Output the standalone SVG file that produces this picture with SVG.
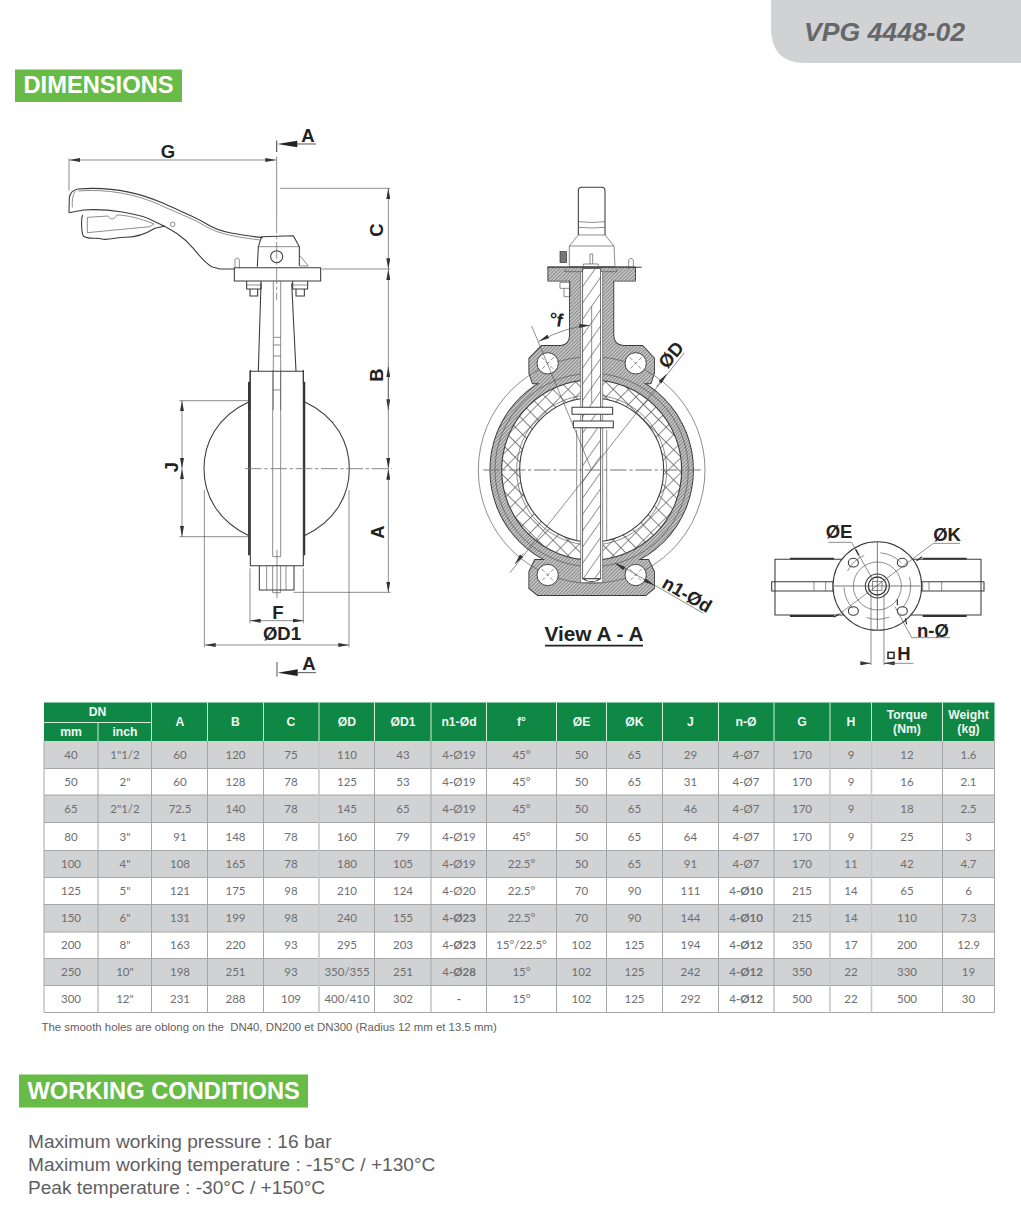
<svg xmlns="http://www.w3.org/2000/svg" width="1021" height="1216" viewBox="0 0 1021 1216">
<style>
.l{fill:none;stroke:#3a3a3a;stroke-width:3.2;stroke-linejoin:round}
.w{fill:#fff;stroke:#3a3a3a;stroke-width:3.2;stroke-linejoin:round}
.t{fill:none;stroke:#555;stroke-width:2}
.k{fill:none;stroke:#333;stroke-width:5.5}
.c{fill:none;stroke:#777;stroke-width:3.5;stroke-dasharray:50 8 10 8}
.d{fill:none;stroke:#555;stroke-width:2;marker-start:url(#a);marker-end:url(#a)}
.e{fill:none;stroke:#555;stroke-width:2;marker-end:url(#a)}
.dl{font:bold 18.5px "Liberation Sans",Arial,sans-serif;fill:#222;text-anchor:middle}
.cell{font:11.5px Lato,"Liberation Sans",sans-serif;fill:#6d6e71;text-anchor:middle}
.cell .b{font-weight:700}
.head{font:bold 12.2px "Liberation Sans",Arial,sans-serif;fill:#f2f8f4;text-anchor:middle}
.title{font:bold 23.7px "Liberation Sans",Arial,sans-serif;fill:#fff}
.cond{font:19.1px "Liberation Sans",Arial,sans-serif;fill:#5f6062}
.grid{stroke:#a6a6a6;stroke-width:1;fill:none}
.grid2{stroke:#c8c8c8;stroke-width:1.6;fill:none}
.hg{stroke:#d5ecdc;stroke-width:1;fill:none}
.hb{fill:url(#hb)}
</style>
<defs>
<marker id="a" viewBox="0 0 32 12" markerUnits="userSpaceOnUse" markerWidth="32" markerHeight="12" refX="32" refY="6" orient="auto-start-reverse"><path d="M0 0L32 6L0 12Z" fill="#333"/></marker>
<pattern id="hb" patternUnits="userSpaceOnUse" width="7.5" height="7.5" patternTransform="rotate(45)"><rect width="7.5" height="7.5" fill="#c9c9c9"/><rect width="3" height="7.5" fill="#858585"/></pattern>
<pattern id="hs" patternUnits="userSpaceOnUse" width="28" height="28" patternTransform="rotate(35)"><rect width="28" height="28" fill="#fff"/><rect width="2" height="28" fill="#666"/></pattern>
<pattern id="hx" patternUnits="userSpaceOnUse" width="32" height="32" patternTransform="rotate(45)"><rect width="32" height="32" fill="#fff"/><path d="M0 0H32M0 0V32" stroke="#555" stroke-width="4" fill="none"/></pattern>
</defs>
<rect width="1021" height="1216" fill="#fff"/>

<g id="doc-tab">
<path d="M771 0H1021V63H805Q771 63 771 28Z" fill="#d1d2d4"/>
<text x="804" y="40.5" style="font:italic bold 26.6px 'Liberation Sans',Arial,sans-serif" fill="#66676a">VPG 4448-02</text>
</g>
<g id="dimensions-title">
<rect x="15" y="69.5" width="167" height="32.5" fill="#67bb46"/>
<text x="23.5" y="93" class="title">DIMENSIONS</text>
</g>

<g id="side-view-top" transform="translate(40 120) scale(.33333)">
<path class="l" d="M87 278L88 232Q92 210 115 207C200 200 290 215 370 250C430 278 470 292 500 312C540 338 600 345 668 353"/>
<path class="t" d="M108 212C98 222 96 240 97 262M115 213C200 206 290 222 365 257C425 285 465 298 495 318C540 345 600 352 660 360"/>
<path class="l" d="M87 278L130 270C200 265 300 280 345 305C400 330 430 350 460 385C480 410 500 432 515 440L540 447H585"/>
<path class="l" d="M128 285C122 300 125 340 130 348C145 360 170 350 190 358C215 360 235 350 260 352C290 352 320 340 345 325L375 318"/>
<path class="t" d="M142 292V338L330 320L342 312C300 295 260 285 230 285C225 300 210 300 205 288Z"/>
<circle class="t" cx="398" cy="313" r="7"/>
<path class="l" d="M652 440L655 380L665 350L760 347L778 380L778 438"/>
<path class="t" d="M655 380H778M778 405L805 438H780"/>
<circle class="l" cx="710" cy="410" r="18"/>
<path class="t" d="M585 445V418Q592 410 598 418V445"/>
<rect class="l" x="583" y="443" width="259" height="40"/>
<path class="l" d="M620 483V507H663V483M630 507V528H653V507M758 483V507H803V483M768 507V528H793V507"/>
<path class="t" d="M620 495H663M758 495H803"/>
<path class="l" d="M663 490L655 752M755 490L768 752M630 790V754H790V790"/>
<path class="t" d="M700 483V870M722 483V870M700 652H722M700 675H722M700 708H722"/>
<path class="k" d="M628 785V870M792 785V870"/>
<path class="t" d="M87 115V212M710 62V96M710 110V290M720 205H1050M845 447H1050"/>
<path class="c" style="stroke-width:2.4" d="M710 290V540"/>
<path class="d" d="M708 120H88"/>
<path class="t" style="stroke-width:3" d="M772 72H828M710 62V96"/>
<path d="M712 72L772 62V82Z" fill="#222"/>
<path class="d" d="M1045 447V205"/>
<path class="d" d="M1045 448V870"/>
</g>

<g id="side-view-bottom" transform="translate(150 370) scale(.33333)">
<path class="l" d="M301 0V587H460V0"/>
<path class="k" d="M297 36V556M463 36V556"/>
<path class="t" d="M368 0V560H392V0M368 60H392"/>
<path class="l" d="M297 95C200 140 162 220 162 296C162 372 200 452 297 497M463 95C560 140 598 220 598 296C598 372 560 452 463 497"/>
<path class="l" d="M328 587V660H432V587"/>
<path class="t" d="M350 587V660M408 587V660M368 587V668H392V587M381 540V685"/>
<path class="t" d="M88 92H297M88 500H297M300 595V760M460 595V760M163 360V832M597 360V832"/>
<path class="c" style="stroke-width:2.6" d="M285 296H725"/>
<path class="t" d="M430 667H722"/>
<path class="d" d="M96 296V92"/>
<path class="d" d="M96 296V500"/>
<path class="d" d="M300 752H460"/>
<path class="d" d="M165 825H597"/>
<path class="d" d="M715 296V-10"/>
<path class="d" d="M715 297V667"/>
<path class="t" style="stroke-width:3" d="M381 876V920M443 908H498"/>
<path d="M383 908L443 898V918Z" fill="#222"/>
</g>

<g id="section-view" transform="translate(470 170) scale(.33333)">
<path class="l hb" style="stroke-width:5.5" d="M235 292H495V332H430V495Q430 525 460 528H518L552 565V610L542 640H188L178 610V565L215 528H272Q300 525 300 495V332H235Z"/>
<path class="l hb" style="stroke-width:5.5" d="M178 1205L195 1170H535L552 1205V1255L527 1275H203L178 1255Z"/>
<circle class="l hb" style="stroke-width:5.5" cx="365" cy="900" r="304"/>
<path class="hb" d="M235 292H495V332H430V495Q430 525 460 528H518L552 565V610L542 640H188L178 610V565L215 528H272Q300 525 300 495V332H235Z"/>
<path class="hb" d="M178 1205L195 1170H535L552 1205V1255L527 1275H203L178 1255Z"/>
<circle class="hb" cx="365" cy="900" r="304"/>
<circle class="t" cx="365" cy="900" r="340"/>
<circle class="t" cx="365" cy="900" r="290"/>
<circle class="l" style="fill:url(#hx)" cx="365" cy="900" r="270"/>
<circle class="w" cx="365" cy="900" r="216"/>
<circle class="t" cx="365" cy="900" r="225"/>
<g fill="#fff" stroke="#444" stroke-width="3">
<circle cx="233" cy="580" r="32"/><circle cx="497" cy="580" r="32"/><circle cx="233" cy="1215" r="32"/><circle cx="497" cy="1215" r="32"/>
</g>
<path class="t" stroke-dasharray="12 6" d="M215 562L251 598M251 562L215 598M479 562L515 598M515 562L479 598M215 1197L251 1233M251 1197L215 1233M479 1197L515 1233M515 1197L479 1233"/>
<path class="t" d="M320 780V1110M335 780V1110M395 780V1110M410 780V1110"/>
<path class="t" d="M298 228L325 195H405L432 228L435 290H298ZM298 228H432"/>
<path class="l" d="M325 195V62Q325 52 335 52H395Q405 52 405 62V195"/>
<path class="t" d="M325 155Q365 160 405 155M325 172Q365 176 405 172"/>
<rect x="270" y="245" width="20" height="33" fill="#777" stroke="#333" stroke-width="2"/>
<path class="t" d="M476 296V270Q483 260 490 270V296M360 282V252H368V282M340 290V282H385V290"/>
<path class="l" d="M232 292H515"/>
<path class="t" d="M285 298V305H440V298"/>
<path class="t" d="M270 337H300V355H270ZM282 355V380H300V355"/>
<rect x="332" y="306" width="66" height="932" fill="#fff"/>
<rect x="338" y="296" width="54" height="930" fill="url(#hs)" stroke="#444" stroke-width="2.4"/>
<path class="t" d="M332 306V1238H398V306"/>
<path class="t" d="M365 410V700"/>
<rect class="w" x="306" y="712" width="122" height="21"/>
<rect class="w" x="310" y="753" width="120" height="20"/>
<path class="w" d="M338 1226Q365 1245 392 1226Z"/>
<path class="c" d="M40 900H692"/>
<path class="t" d="M365 900L185 468"/>
<path class="d" d="M207 514Q290 470 360 466"/>
<path class="t" d="M643 548L120 1208"/>
<path class="e" d="M560 650L590 612"/>
<path class="e" d="M160 1150L135 1182"/>
<path class="t" d="M440 1180L700 1330"/>
<path class="e" d="M470 1200L435 1180"/>
<path class="e" d="M520 1228L553 1246"/>
</g>

<g id="top-view" transform="translate(760 510) scale(.33333)">
<rect class="l" x="45" y="148" width="618" height="167"/>
<path class="k" d="M90 146H222M488 146H620M90 318H222M488 318H620"/>
<rect class="l" x="35" y="215" width="637" height="28"/>
<path class="t" d="M162 215V243M197 215V243M218 215V243M488 215V243M507 215V243M545 215V243"/>
<circle class="w" cx="352" cy="228" r="133"/>
<circle class="t" cx="352" cy="228" r="100" stroke-dasharray="70 50"/>
<circle class="t" cx="352" cy="228" r="72"/>
<circle class="l" cx="352" cy="228" r="36"/>
<circle class="k" cx="352" cy="228" r="27" style="stroke-width:4"/>
<rect class="t" x="338" y="214" width="28" height="28"/>
<path class="t" style="stroke-width:2.4" d="M352 95V360M220 228H488"/>
<g class="l"><ellipse cx="280" cy="158" rx="15" ry="13"/><ellipse cx="427" cy="158" rx="15" ry="13"/><ellipse cx="280" cy="303" rx="15" ry="13"/><ellipse cx="427" cy="303" rx="15" ry="13"/></g>
<path class="t" d="M205 97H275L340 212"/>
<path class="k" style="stroke-width:4" d="M287 118L297 136"/>
<path class="t" d="M600 100H520L230 318"/>
<path class="k" style="stroke-width:4" d="M470 152L486 140M222 322L236 312"/>
<path class="t" d="M570 383H455L405 290"/>
<path class="k" style="stroke-width:3.5" d="M412 268V286M436 325L440 343"/>
<path class="t" d="M333 245V465M372 245V465"/>
<path class="e" d="M305 460H333"/>
<path class="e" d="M405 460H372"/>
<path class="t" d="M372 460H460"/>
<rect x="384" y="427" width="18" height="18" fill="none" stroke="#222" stroke-width="4.5"/>
</g>

<g id="drawing-labels">
<text class="dl" x="168" y="158">G</text>
<text class="dl" x="308" y="142">A</text>
<text class="dl" transform="translate(383 230) rotate(-90)">C</text>
<text class="dl" transform="translate(383 375) rotate(-90)">B</text>
<text class="dl" transform="translate(178 467) rotate(-90)">J</text>
<text class="dl" transform="translate(384 532) rotate(-90)">A</text>
<text class="dl" x="278" y="619">F</text>
<text class="dl" x="282" y="640">ØD1</text>
<text class="dl" x="309" y="670">A</text>
<text class="dl" transform="translate(555 326) rotate(10)">°f</text>
<text class="dl" transform="translate(676 359) rotate(-50)">ØD</text>
<text class="dl" transform="translate(684 600) rotate(30)">n1-Ød</text>
<text x="594" y="641" style="font:bold 20.8px 'Liberation Sans',Arial,sans-serif" fill="#222" text-anchor="middle">View A - A</text>
<path d="M545 645.7H643" stroke="#222" stroke-width="1.8"/>
<text class="dl" x="839" y="538">ØE</text>
<text class="dl" x="947" y="541">ØK</text>
<text class="dl" x="933" y="637">n-Ø</text>
<text class="dl" x="904" y="660">H</text>
</g>

<g id="table">
<rect x="44" y="702.5" width="950.5" height="38.5" fill="#0f8745"/>
<g fill="#d1d2d4">
<rect x="44" y="741" width="950.5" height="27.5"/><rect x="44" y="795" width="950.5" height="27.5"/><rect x="44" y="850.5" width="950.5" height="27"/><rect x="44" y="904.5" width="950.5" height="27.5"/><rect x="44" y="958.5" width="950.5" height="27"/>
</g>
<path class="hg" d="M44 722.5H151.5M98 722.5V741M151.5 702.5V741M207.5 702.5V741M263.5 702.5V741M319 702.5V741M374.5 702.5V741M431 702.5V741M486.5 702.5V741M556.5 702.5V741M606.5 702.5V741M662.5 702.5V741M718.5 702.5V741M774 702.5V741M830 702.5V741M871.5 702.5V741M942.5 702.5V741"/>
<path class="grid" d="M44 741V1012.5M98 741V1012.5M151.5 741V1012.5M207.5 741V1012.5M263.5 741V1012.5M374.5 741V1012.5M431 741V1012.5M486.5 741V1012.5M556.5 741V1012.5M606.5 741V1012.5M662.5 741V1012.5M718.5 741V1012.5M774 741V1012.5M942.5 741V1012.5M994.5 741V1012.5M44 768.5H994.5M44 795H994.5M44 822.5H994.5M44 850.5H994.5M44 877.5H994.5M44 904.5H994.5M44 932H994.5M44 958.5H994.5M44 985.5H994.5M44 1012.5H994.5"/>
<path class="grid2" d="M319 741V1012.5M830 741V1012.5M871.5 741V1012.5"/>
<g class="head">
<text x="97.5" y="716">DN</text><text x="71" y="736">mm</text><text x="125" y="736">inch</text>
<text x="180" y="726">A</text><text x="235.5" y="726">B</text><text x="291" y="726">C</text><text x="347" y="726">ØD</text><text x="403" y="726">ØD1</text><text x="459" y="726">n1-Ød</text><text x="521.5" y="726">f°</text><text x="581.5" y="726">ØE</text><text x="634.5" y="726">ØK</text><text x="690.5" y="726">J</text><text x="746" y="726">n-Ø</text><text x="802" y="726">G</text><text x="851" y="726">H</text>
<text x="907" y="719">Torque</text><text x="907" y="733">(Nm)</text><text x="968.5" y="719">Weight</text><text x="968.5" y="733">(kg)</text>
</g>
<g class="cell">
<g transform="translate(0 759)"><text x="71">40</text><text x="125">1"1/2</text><text x="180">60</text><text x="235.5">120</text><text x="291">75</text><text x="347">110</text><text x="403">43</text><text x="459">4<tspan class="b">-</tspan>Ø19</text><text x="521.5">45°</text><text x="581.5">50</text><text x="634.5">65</text><text x="690.5">29</text><text x="746">4-Ø7</text><text x="802">170</text><text x="851">9</text><text x="907">12</text><text x="968.5">1.6</text></g>
<g transform="translate(0 786)"><text x="71">50</text><text x="125">2"</text><text x="180">60</text><text x="235.5">128</text><text x="291">78</text><text x="347">125</text><text x="403">53</text><text x="459">4<tspan class="b">-</tspan>Ø19</text><text x="521.5">45°</text><text x="581.5">50</text><text x="634.5">65</text><text x="690.5">31</text><text x="746">4-Ø7</text><text x="802">170</text><text x="851">9</text><text x="907">16</text><text x="968.5">2.1</text></g>
<g transform="translate(0 813)"><text x="71">65</text><text x="125">2"1/2</text><text x="180">72.5</text><text x="235.5">140</text><text x="291">78</text><text x="347">145</text><text x="403">65</text><text x="459">4<tspan class="b">-</tspan>Ø19</text><text x="521.5">45°</text><text x="581.5">50</text><text x="634.5">65</text><text x="690.5">46</text><text x="746">4-Ø7</text><text x="802">170</text><text x="851">9</text><text x="907">18</text><text x="968.5">2.5</text></g>
<g transform="translate(0 840.5)"><text x="71">80</text><text x="125">3"</text><text x="180">91</text><text x="235.5">148</text><text x="291">78</text><text x="347">160</text><text x="403">79</text><text x="459">4<tspan class="b">-</tspan>Ø19</text><text x="521.5">45°</text><text x="581.5">50</text><text x="634.5">65</text><text x="690.5">64</text><text x="746">4-Ø7</text><text x="802">170</text><text x="851">9</text><text x="907">25</text><text x="968.5">3</text></g>
<g transform="translate(0 868)"><text x="71">100</text><text x="125">4"</text><text x="180">108</text><text x="235.5">165</text><text x="291">78</text><text x="347">180</text><text x="403">105</text><text x="459">4<tspan class="b">-</tspan>Ø19</text><text x="521.5">22.5°</text><text x="581.5">50</text><text x="634.5">65</text><text x="690.5">91</text><text x="746">4-Ø7</text><text x="802">170</text><text x="851">11</text><text x="907">42</text><text x="968.5">4.7</text></g>
<g transform="translate(0 895)"><text x="71">125</text><text x="125">5"</text><text x="180">121</text><text x="235.5">175</text><text x="291">98</text><text x="347">210</text><text x="403">124</text><text x="459">4-Ø20</text><text x="521.5">22.5°</text><text x="581.5">70</text><text x="634.5">90</text><text x="690.5">111</text><text x="746">4<tspan class="b">-Ø10</tspan></text><text x="802">215</text><text x="851">14</text><text x="907">65</text><text x="968.5">6</text></g>
<g transform="translate(0 922)"><text x="71">150</text><text x="125">6"</text><text x="180">131</text><text x="235.5">199</text><text x="291">98</text><text x="347">240</text><text x="403">155</text><text x="459">4<tspan class="b">-Ø23</tspan></text><text x="521.5">22.5°</text><text x="581.5">70</text><text x="634.5">90</text><text x="690.5">144</text><text x="746">4<tspan class="b">-Ø10</tspan></text><text x="802">215</text><text x="851">14</text><text x="907">110</text><text x="968.5">7.3</text></g>
<g transform="translate(0 949)"><text x="71">200</text><text x="125">8"</text><text x="180">163</text><text x="235.5">220</text><text x="291">93</text><text x="347">295</text><text x="403">203</text><text x="459">4<tspan class="b">-Ø23</tspan></text><text x="521.5">15°/22.5°</text><text x="581.5">102</text><text x="634.5">125</text><text x="690.5">194</text><text x="746">4<tspan class="b">-Ø12</tspan></text><text x="802">350</text><text x="851">17</text><text x="907">200</text><text x="968.5">12.9</text></g>
<g transform="translate(0 976)"><text x="71">250</text><text x="125">10"</text><text x="180">198</text><text x="235.5">251</text><text x="291">93</text><text x="347">350/355</text><text x="403">251</text><text x="459">4<tspan class="b">-Ø28</tspan></text><text x="521.5">15°</text><text x="581.5">102</text><text x="634.5">125</text><text x="690.5">242</text><text x="746">4<tspan class="b">-Ø12</tspan></text><text x="802">350</text><text x="851">22</text><text x="907">330</text><text x="968.5">19</text></g>
<g transform="translate(0 1003)"><text x="71">300</text><text x="125">12"</text><text x="180">231</text><text x="235.5">288</text><text x="291">109</text><text x="347">400/410</text><text x="403">302</text><text x="459" class="b">-</text><text x="521.5">15°</text><text x="581.5">102</text><text x="634.5">125</text><text x="690.5">292</text><text x="746">4<tspan class="b">-Ø12</tspan></text><text x="802">500</text><text x="851">22</text><text x="907">500</text><text x="968.5">30</text></g>
</g>
<text x="41.5" y="1031" xml:space="preserve" style="font:11.4px 'Liberation Sans',Arial,sans-serif" fill="#5f6062">The smooth holes are oblong on the  DN40, DN200 et DN300 (Radius 12 mm et 13.5 mm)</text>
</g>

<g id="working-conditions">
<rect x="19" y="1074.5" width="289" height="33" fill="#67bb46"/>
<text x="27.5" y="1099" class="title">WORKING CONDITIONS</text>
<text x="28" y="1148" class="cond">Maximum working pressure : 16 bar</text>
<text x="28" y="1171" class="cond">Maximum working temperature : -15°C / +130°C</text>
<text x="28" y="1194" class="cond">Peak temperature : -30°C / +150°C</text>
</g>
</svg>
